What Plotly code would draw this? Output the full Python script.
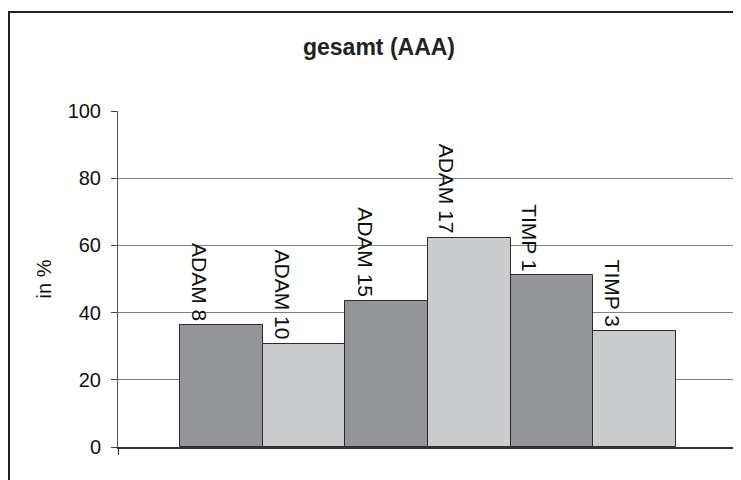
import plotly.graph_objects as go

categories = ["ADAM 8", "ADAM 10", "ADAM 15", "ADAM 17", "TIMP 1", "TIMP 3"]
values = [36.2, 30.8, 43.5, 62.2, 51.3, 34.6]
bar_colors = ["#939598", "#cbcccd", "#939598", "#cbcccd", "#939598", "#cbcccd"]
y_ticks = [0, 20, 40, 60, 80, 100]

# the page body adds an 8px offset, so the figure is shifted to compensate
OFF = 8
W, H = 741 - OFF, 480 - OFF
L, R, T = 118 - OFF, 3, 111 - OFF
B = H - T - 336
FONT = "Arial, Liberation Sans, sans-serif"

fig = go.Figure()
fig.add_trace(go.Bar(
    x=categories, y=values,
    marker=dict(color=bar_colors, line=dict(color="#2b2b2b", width=1)),
    width=1.0, showlegend=False, hoverinfo="x+y",
))

for c, v in zip(categories, values):
    fig.add_annotation(
        x=c, y=v, xref="x", yref="y", text=c, showarrow=False,
        textangle=90, xanchor="center", yanchor="bottom",
        xshift=-22, yshift=2,
        font=dict(family=FONT, size=21, color="#111111"),
    )

pw = W - L - R
ph = H - T - B
# outer chart border
fig.add_shape(type="rect", xref="paper", yref="paper",
              x0=(1 - L) / pw, x1=(W + 20 - L) / pw,
              y0=-(B + 20) / ph, y1=(H - 4 - B) / ph,
              line=dict(color="#222222", width=2), layer="below")
# plot area right border
fig.add_shape(type="line", xref="paper", yref="paper", x0=1, x1=1, y0=0, y1=1,
              line=dict(color="#9a9a9a", width=1))

fig.update_layout(
    width=W, height=H,
    margin=dict(l=L, r=R, t=T, b=B, pad=0, autoexpand=False),
    paper_bgcolor="white", plot_bgcolor="white",
    bargap=0,
    font=dict(family=FONT, size=19, color="#111111"),
    title=dict(text="<b>gesamt (AAA)</b>", x=(379 - OFF) / W, xanchor="center",
               y=1 - (47 - OFF) / H, yanchor="middle", automargin=False,
               font=dict(family=FONT, size=23, color="#222222")),
    xaxis=dict(
        type="category", range=[-1.25, 6.25], automargin=False,
        tickmode="array", tickvals=[-1.25, 6.249], ticktext=["", ""],
        ticks="outside", ticklen=6, tickcolor="#333333",
        showline=True, linecolor="#333333", linewidth=1.5,
        showgrid=False, zeroline=False, fixedrange=True,
    ),
    yaxis=dict(
        range=[0, 100], tickvals=y_ticks, automargin=False,
        ticks="outside", ticklen=6, tickcolor="#444444",
        ticklabelstandoff=6,
        showline=True, linecolor="#555555", linewidth=1,
        showgrid=True, gridcolor="#808080", gridwidth=1,
        zeroline=False,
        title=dict(text="in %", standoff=10, font=dict(family=FONT, size=20)),
        tickfont=dict(family=FONT, size=20, color="#111111"),
    ),
)

fig.write_html("out.html")
